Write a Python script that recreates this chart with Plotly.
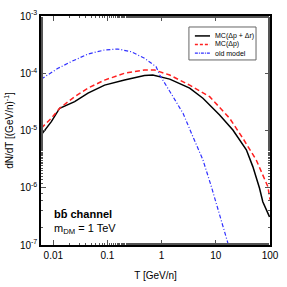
import plotly.graph_objects as go

# MC(Δp + Δr)
t_black = [0.006, 0.0092, 0.0131, 0.0248, 0.0437, 0.0885, 0.2065, 0.482, 0.686, 1.41, 3.29, 5.78, 11.75, 20.65, 36.6, 48.2, 64.1, 73.6, 98.0]
y_black = [8.4e-6, 1.43e-5, 2.45e-5, 3.2e-5, 4.5e-5, 6.2e-5, 7.6e-5, 9.1e-5, 9.3e-5, 7.9e-5, 5.5e-5, 3.66e-5, 1.87e-5, 1.02e-5, 4.6e-6, 2.34e-6, 9.8e-7, 5.7e-7, 3.1e-7]

# MC(Δp)
t_red = [0.006, 0.0092, 0.0131, 0.0248, 0.0437, 0.0885, 0.2065, 0.482, 0.74, 1.41, 3.29, 7.69, 17.95, 31.6, 55.6, 91.2, 100.0]
y_red = [1.1e-5, 1.64e-5, 2.45e-5, 3.9e-5, 5.5e-5, 7.6e-5, 1.0e-4, 1.14e-4, 1.14e-4, 9.3e-5, 6.2e-5, 3.9e-5, 1.64e-5, 7.3e-6, 3.07e-6, 1.05e-6, 6.2e-7]

# old model
t_blue = [0.006, 0.0122, 0.0215, 0.0437, 0.0885, 0.1556, 0.273, 0.482, 0.789, 0.923, 1.62, 2.48, 3.78, 5.78, 8.26, 16.7]
y_blue = [7.9e-5, 1.22e-4, 1.6e-4, 2.17e-4, 2.55e-4, 2.65e-4, 2.38e-4, 1.83e-4, 1.3e-4, 9.3e-5, 3.9e-5, 2.0e-5, 7.8e-6, 3.07e-6, 1.05e-6, 1.08e-7]

series_names = ["MC(Δp + Δr)", "MC(Δp)", "old model"]

y_ticks = [1e-7, 1e-6, 1e-5, 1e-4, 1e-3]
y_ticktext = ["10<sup>-7</sup>", "10<sup>-6</sup>", "10<sup>-5</sup>", "10<sup>-4</sup>", "10<sup>-3</sup>"]
x_ticks = [0.01, 0.1, 1, 10, 100]
x_ticktext = ["0.01", "0.1", "1", "10", "100"]

FONT = "Liberation Sans, Arial"
styles = [dict(color="black", width=1.5, dash="solid"),
          dict(color="#ff2020", width=1.5, dash="5px,3px"),
          dict(color="#3030ff", width=1.2, dash="4px,2px,1px,2px")]

fig = go.Figure()
for tx, ty, nm, st in zip([t_black, t_red, t_blue], [y_black, y_red, y_blue], series_names, styles):
    fig.add_trace(go.Scatter(x=tx, y=ty, mode="lines", name=nm, line=st, showlegend=False))

axis_common = dict(type="log", showgrid=False, zeroline=False, showline=True,
                   linecolor="black", linewidth=1.5, mirror="allticks", automargin=False,
                   ticks="inside", ticklen=5, tickwidth=1, tickcolor="#555",
                   tickfont=dict(family=FONT, size=10, color="black"),
                   minor=dict(ticks="inside", ticklen=2.5, tickcolor="#555", showgrid=False))

fig.update_xaxes(**axis_common, range=[-2.227, 2], tickvals=x_ticks, ticktext=x_ticktext,
                 title=dict(text="T [GeV/n]", font=dict(family=FONT, size=10, color="black"), standoff=12))
fig.update_yaxes(**axis_common, range=[-7, -3], tickvals=y_ticks, ticktext=y_ticktext,
                 title=dict(text="dN/dT [(GeV/n)<sup>-1</sup>]", font=dict(family=FONT, size=10, color="black"), standoff=4))

# custom legend (box, line samples, labels)
fig.add_shape(type="rect", xref="paper", yref="paper", x0=0.646, x1=0.939, y0=0.808, y1=0.952,
              line=dict(color="#666", width=1), fillcolor="white", layer="above")
row_y = [0.913, 0.876, 0.838]
for ry, nm, st in zip(row_y, series_names, styles):
    fig.add_shape(type="line", xref="paper", yref="paper", x0=0.672, x1=0.738, y0=ry, y1=ry,
                  line=dict(color=st["color"], width=st["width"],
                            dash="solid" if st["dash"] == "solid" else ("3px,2px" if nm == "MC(Δp)" else "3px,1px,1px,1px")),
                  layer="above")
    fig.add_annotation(x=0.751, y=ry, xref="paper", yref="paper", text=nm, showarrow=False,
                       xanchor="left", yanchor="middle", font=dict(family=FONT, size=7, color="black"))

fig.add_annotation(x=0.05, y=0.135, xref="paper", yref="paper", text="<b>bb̄ channel</b>",
                   showarrow=False, xanchor="left", yanchor="middle",
                   font=dict(family=FONT, size=11, color="black"))
fig.add_annotation(x=0.05, y=0.07, xref="paper", yref="paper", text="m<sub>DM</sub> = 1 TeV",
                   showarrow=False, xanchor="left", yanchor="middle",
                   font=dict(family=FONT, size=11, color="black"))

fig.update_layout(
    width=287, height=287,
    margin=dict(l=41, r=17, t=16, b=42),
    paper_bgcolor="white", plot_bgcolor="white",
    showlegend=False,
)

fig.write_html("out.html", config={"displayModeBar": False},
               post_script="document.body.style.margin='0';")
